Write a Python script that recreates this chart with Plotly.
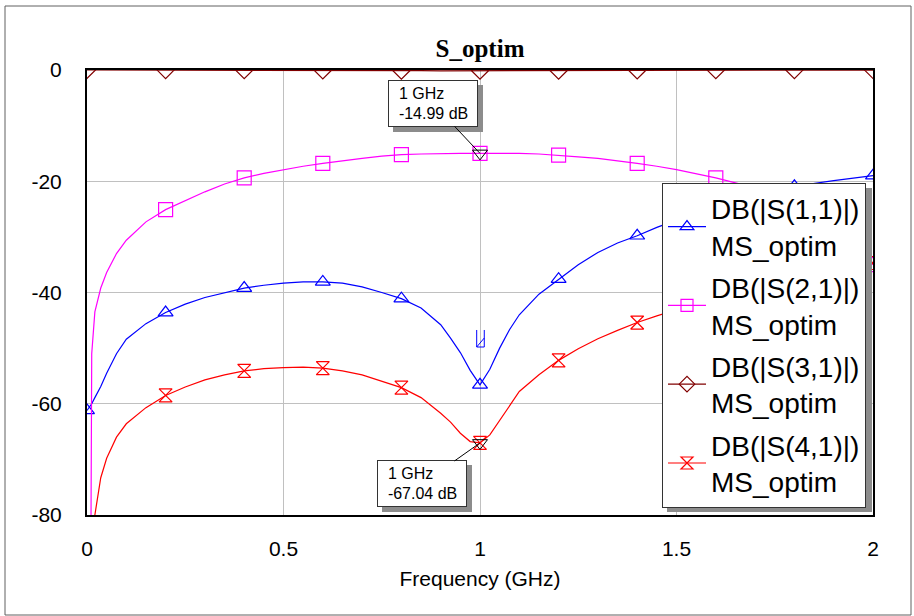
import plotly.graph_objects as go

# ---------------- data ----------------
freq = [0, 0.012, 0.02, 0.035, 0.05, 0.075, 0.1, 0.15,
        0.2, 0.25, 0.3, 0.35, 0.4, 0.45, 0.5, 0.55, 0.6, 0.65, 0.7, 0.75, 0.8, 0.85, 0.9,
        0.925, 0.95, 0.975,
        1.0, 1.025, 1.05, 1.075, 1.1,
        1.15, 1.2, 1.25, 1.3, 1.35, 1.4, 1.45, 1.5,
        1.6, 1.7, 1.8, 1.9, 2.0]

s11_db = [-61.2, -60.0, -58.9, -56.9, -54.5, -51.0, -48.4, -45.6,
          -43.6, -42.1, -40.9, -40.0, -39.2, -38.7, -38.3, -38.1, -38.1, -38.3, -39.0, -40.0, -41.1, -42.8, -45.8,
          -48.2, -50.8, -54.0,
          -56.6, -53.8, -50.0, -46.7, -44.0,
          -40.3, -37.6, -35.0, -32.8, -31.1, -29.8, -28.3, -27.0,
          -24.6, -22.5, -20.9, -19.9, -19.0]

s21_db = [-250.0, -51.0, -43.5, -39.2, -36.4, -33.0, -30.6, -27.3,
          -25.1, -23.5, -21.9, -20.5, -19.4, -18.6, -17.9, -17.3, -16.8, -16.3, -15.9, -15.5, -15.2, -15.1, -15.0,
          -15.0, -15.0, -15.0,
          -14.99, -15.0, -15.0, -15.0, -15.0,
          -15.1, -15.3, -15.6, -15.9, -16.3, -16.8, -17.3, -17.9,
          -19.4, -21.2, -24.0, -28.0, -35.0]

s31_db = [0.0, 0.0, 0.0, 0.0, -0.01, -0.01, -0.01, -0.02,
          -0.02, -0.03, -0.04, -0.05, -0.05, -0.06, -0.07, -0.08, -0.09, -0.10, -0.11, -0.12, -0.13, -0.13, -0.14,
          -0.14, -0.14, -0.14,
          -0.14, -0.14, -0.14, -0.14, -0.14,
          -0.13, -0.13, -0.12, -0.11, -0.10, -0.09, -0.08, -0.07,
          -0.05, -0.04, -0.03, -0.02, -0.01]

s41_db = [-250.0, -86.0, -80.0, -73.3, -69.8, -66.0, -63.6, -60.7,
          -58.5, -57.0, -55.7, -54.8, -54.1, -53.7, -53.5, -53.4, -53.6, -54.1, -54.8, -55.9, -57.1, -58.9, -61.7,
          -63.3, -65.3, -66.8,
          -67.04, -65.6, -63.0, -60.3, -57.8,
          -54.8, -52.2, -50.1, -48.3, -46.8, -45.4, -44.2, -43.1,
          -41.1, -39.2, -37.6, -36.1, -34.7]

series_names = ["DB(|S(1,1)|)<br>MS_optim", "DB(|S(2,1)|)<br>MS_optim",
                "DB(|S(3,1)|)<br>MS_optim", "DB(|S(4,1)|)<br>MS_optim"]

marker_freq = [1.0, 1.0]
marker_db = [-14.99, -67.04]
marker_text = ["1 GHz<br>-14.99 dB", "1 GHz<br>-67.04 dB"]

x_tickvals = [0, 0.5, 1, 1.5, 2]
x_ticktext = ["0", "0.5", "1", "1.5", "2"]
y_tickvals = [0, -20, -40, -60, -80]
y_ticktext = ["0", "-20", "-40", "-60", "-80"]

title_text = "S_optim"
x_title = "Frequency (GHz)"

# ---------------- styling ----------------
W, H = 914, 616
ML, MR, MT, MB = 87, 41, 70, 101
PW, PH = W - ML - MR, H - MT - MB

colors = ["#0000FF", "#FF00FF", "#800000", "#FF0000"]
symbols = ["triangle-up-open", "square-open", "diamond-open", "hourglass-open"]
msizes = [13, 14, 13, 13]
all_series = [s11_db, s21_db, s31_db, s41_db]

FONT = "Liberation Sans, Arial, sans-serif"


def px2paper(px, py):
    return (px - ML) / PW, (H - MB - py) / PH


# points at every 0.2 GHz carry a marker
mk_idx = [i for i, f in enumerate(freq) if abs(f / 0.2 - round(f / 0.2)) < 1e-9]

fig = go.Figure()
for k, (name, ys, col, sym, ms) in enumerate(zip(series_names, all_series, colors, symbols, msizes)):
    grp = "g%d" % k
    fig.add_trace(go.Scatter(x=freq, y=ys, mode="lines", line=dict(color=col, width=1.2),
                             showlegend=False, hoverinfo="skip", legendgroup=grp))
    fig.add_trace(go.Scatter(x=[freq[i] for i in mk_idx], y=[ys[i] for i in mk_idx], mode="markers",
                             marker=dict(symbol=sym, size=ms, color=col, line=dict(color=col, width=1.2)),
                             showlegend=False, hoverinfo="skip", legendgroup=grp))
    # legend entry
    fig.add_trace(go.Scatter(x=[None], y=[None], mode="lines+markers", name=name, legendgroup=grp,
                             line=dict(color=col, width=1.2),
                             marker=dict(symbol=sym, size=12, color=col, line=dict(color=col, width=1.2))))

# marker indicators at 1 GHz
fig.add_trace(go.Scatter(x=marker_freq, y=marker_db, mode="markers", showlegend=False, hoverinfo="skip",
                         marker=dict(symbol="triangle-down-open", size=13, color="black",
                                     line=dict(color="black", width=1))))

annotations = []
offsets = [(-47, -50), (-58, 41)]
for fx, fy, txt, (ax, ay) in zip(marker_freq, marker_db, marker_text, offsets):
    lab = "&nbsp;&nbsp;" + txt.replace("<br>", "<br>&nbsp;&nbsp;")
    # shadow box
    annotations.append(dict(x=fx, y=fy, xref="x", yref="y", text="&nbsp;", showarrow=False,
                            xanchor="center", yanchor="middle", xshift=ax + 5, yshift=-(ay + 5),
                            font=dict(family=FONT, size=16, color="#8c8c8c"),
                            bgcolor="#8c8c8c", bordercolor="#8c8c8c", borderwidth=1, borderpad=1,
                            width=86, height=43))
    annotations.append(dict(x=fx, y=fy, xref="x", yref="y", text=lab, showarrow=True,
                            ax=ax, ay=ay, axref="pixel", ayref="pixel", arrowhead=0, arrowwidth=1,
                            arrowcolor="black",
                            font=dict(family=FONT, size=16, color="black"), align="left",
                            bgcolor="white", bordercolor="#333333", borderwidth=1, borderpad=1,
                            width=86, height=43))

shapes = []
# outer frame
fx0, fy1 = px2paper(5, 6)
fx1, fy0 = px2paper(911, 615)
shapes.append(dict(type="rect", xref="paper", yref="paper", x0=fx0, x1=fx1, y0=fy0, y1=fy1,
                   line=dict(color="#606060", width=1), layer="below"))
# legend shadow
sx0, sy1 = px2paper(667, 188)
sx1, sy0 = px2paper(872, 512)
shapes.append(dict(type="rect", xref="paper", yref="paper", x0=sx0, x1=sx1, y0=sy0, y1=sy1,
                   fillcolor="#8c8c8c", line=dict(width=0), layer="above"))
# small tuning glyph on S11 at 1 GHz
shapes.append(dict(type="path", xref="x", yref="y",
                   path="M 0.9916 -46.74 L 0.9916 -49.80 L 1.0109 -49.80 L 1.0109 -46.74 "
                        "M 0.9916 -49.80 L 1.0109 -48.18",
                   line=dict(color="#0000FF", width=1), layer="above"))

lx, ly = px2paper(662, 182.7)

fig.update_layout(
    width=W, height=H,
    margin=dict(l=ML, r=MR, t=MT, b=MB),
    paper_bgcolor="white", plot_bgcolor="white",
    font=dict(family=FONT, size=21, color="black"),
    title=dict(text="<b>" + title_text + "</b>", x=0.5, xref="paper", xanchor="center",
               y=1 - 48 / H, yref="container", yanchor="middle",
               font=dict(family="Liberation Serif, Times New Roman, serif", size=25, color="black")),
    xaxis=dict(range=[0, 2], tickvals=x_tickvals, ticktext=x_ticktext, showgrid=True,
               gridcolor="#c0c0c0", gridwidth=1, zeroline=False, showline=True, linecolor="black",
               linewidth=2, mirror=True, ticks="", ticklabelstandoff=14,
               tickfont=dict(family=FONT, size=21, color="black"),
               title=dict(text=x_title, font=dict(family=FONT, size=21, color="black"), standoff=12)),
    yaxis=dict(range=[-80, 0], tickvals=y_tickvals, ticktext=y_ticktext, showgrid=True,
               gridcolor="#c0c0c0", gridwidth=1, zeroline=False, showline=True, linecolor="black",
               linewidth=2, mirror=True, ticks="", ticklabelstandoff=19,
               tickfont=dict(family=FONT, size=21, color="black")),
    legend=dict(x=lx, y=ly, xanchor="left", yanchor="top", bgcolor="white",
                bordercolor="#333333", borderwidth=1,
                font=dict(family=FONT, size=28, color="black"), itemwidth=38, tracegroupgap=3),
    annotations=annotations,
    shapes=shapes,
    showlegend=True,
)

fig.write_html("out.html", config={"displayModeBar": False},
               post_script="document.body.style.margin='0px';document.body.style.overflow='hidden';")
